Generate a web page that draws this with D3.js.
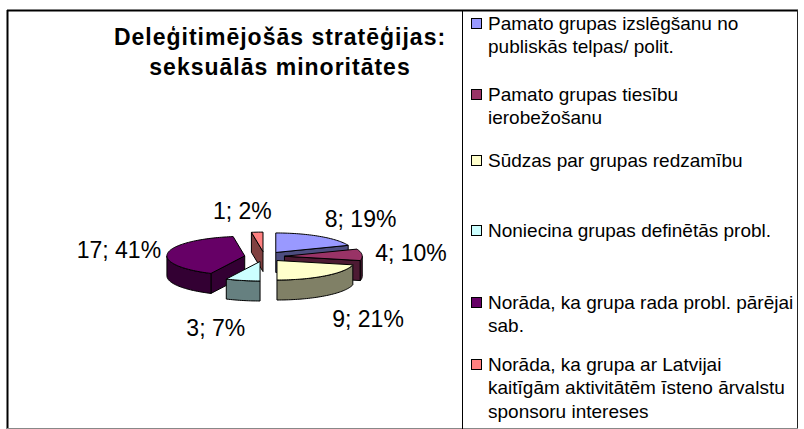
<!DOCTYPE html>
<html><head><meta charset="utf-8">
<script src="https://cdn.jsdelivr.net/npm/d3@7"></script>
<style>body{margin:0;background:#fff} svg{display:block}</style>
</head><body>
<svg id="c" width="804" height="429"></svg>
<script>
// ---- data ----
const categories = [
  ["Pamato grupas izslēgšanu no", "publiskās telpas/ polit."],
  ["Pamato grupas tiesību", "ierobežošanu"],
  ["Sūdzas par grupas redzamību"],
  ["Noniecina grupas definētās probl."],
  ["Norāda, ka grupa rada probl. pārējai", "sab."],
  ["Norāda, ka grupa ar Latvijai", "kaitīgām aktivitātēm īsteno ārvalstu", "sponsoru intereses"]
];
const values = [8, 4, 9, 3, 17, 1];
const percents = [19, 10, 21, 7, 41, 2];
const colors = ["#9999FF", "#993366", "#FFFFCC", "#CCFFFF", "#660066", "#FF8080"];
const titleLines = ["Deleģitimējošās stratēģijas:", "seksuālās minoritātes"];

// ---- layout ----
const W = 804, H = 429;
const FONT = "'Liberation Sans', Arial, Helvetica, sans-serif";
const svg = d3.select("#c");
const legendFirstBaseline = [30, 101, 167, 237, 309, 371];
const legendLineStep = 23.3;

// frame
svg.append("line").attr("x1",7.5).attr("y1",10).attr("x2",7.5).attr("y2",H).attr("stroke","#000").attr("stroke-width",2);
svg.append("line").attr("x1",7).attr("y1",10.5).attr("x2",798).attr("y2",10.5).attr("stroke","#000").attr("stroke-width",2);
svg.append("line").attr("x1",797.5).attr("y1",10).attr("x2",797.5).attr("y2",H).attr("stroke","#222").attr("stroke-width",1);
svg.append("line").attr("x1",7).attr("y1",428.5).attr("x2",798).attr("y2",428.5).attr("stroke","#888").attr("stroke-width",1);
// legend box
svg.append("line").attr("x1",462.5).attr("y1",10).attr("x2",462.5).attr("y2",H).attr("stroke","#000").attr("stroke-width",1);

// title
svg.append("g").selectAll("text").data(titleLines).join("text")
  .attr("x", 280).attr("y", (d,i)=>45 + i*30)
  .attr("text-anchor","middle")
  .attr("font-family", FONT).attr("font-weight","bold")
  .attr("font-size", 23).attr("letter-spacing", 1)
  .text(d=>d);

// ---- 3D pie ----
const cx = 264.5, cy = 256.6, rx = 77.8, ry = 19.5, depth = 20, explode = 20;
const k = ry / rx;
const arcs = d3.pie().sort(null).value(d=>d)(values);
arcs.forEach((a,i)=>{
  a.i = i;
  a.mid = (a.startAngle + a.endAngle)/2;
  a.ox = explode * Math.sin(a.mid);
  a.oy = -explode * Math.cos(a.mid) * k;
});
function pt(a, s, dz){ return [cx + s.ox + rx*Math.sin(a), cy + s.oy - ry*Math.cos(a) + (dz||0)]; }
function arcPts(a0, a1, s, dz){
  const n = Math.max(2, Math.ceil((a1-a0)/0.03));
  return d3.range(n+1).map(j => pt(a0 + (a1-a0)*j/n, s, dz));
}
const halfColor = c => { const r = d3.rgb(c); return d3.rgb(r.r/2, r.g/2, r.b/2).formatHex(); };
const line = d3.line();

const order = arcs.slice().sort((a,b)=>Math.cos(b.mid) - Math.cos(a.mid));
const pieG = svg.append("g").attr("stroke","#000").attr("stroke-width",1).attr("stroke-linejoin","round");
order.forEach(s=>{
  const g = pieG.append("g");
  const dark = halfColor(colors[s.i]);
  const c0 = [cx + s.ox, cy + s.oy];
  const c1 = [c0[0], c0[1] + depth];
  if (Math.sin(s.startAngle) < -1e-6) {
    const p = pt(s.startAngle, s), q = pt(s.startAngle, s, depth);
    g.append("path").attr("d", line([c0, p, q, c1]) + "Z").attr("fill", dark);
  }
  if (Math.sin(s.endAngle) > 1e-6) {
    const p = pt(s.endAngle, s), q = pt(s.endAngle, s, depth);
    g.append("path").attr("d", line([c0, p, q, c1]) + "Z").attr("fill", dark);
  }
  const v0 = Math.max(s.startAngle, Math.PI/2), v1 = Math.min(s.endAngle, 3*Math.PI/2);
  if (v1 > v0) {
    const top = arcPts(v0, v1, s, 0), bot = arcPts(v0, v1, s, depth).reverse();
    g.append("path").attr("d", line(top.concat(bot)) + "Z").attr("fill", dark);
  }
  g.append("path").attr("d", line([c0].concat(arcPts(s.startAngle, s.endAngle, s, 0))) + "Z")
    .attr("fill", colors[s.i]);
});

// labels
svg.append("g").selectAll("text").data(arcs).join("text")
  .attr("x", s => {
    const sn = Math.sin(s.mid);
    return cx + s.ox + Math.sign(sn) * (rx + 49) * Math.pow(Math.abs(sn), 0.7);
  })
  .attr("y", s => {
    const cs = Math.cos(s.mid);
    return cy + s.oy - (ry + 21) * cs + (cs < 0 ? depth + 7 : 0);
  })
  .attr("dy", "0.36em")
  .attr("text-anchor","middle")
  .attr("font-family", FONT).attr("font-size", 23)
  .text(s => `${values[s.i]}; ${percents[s.i]}%`);

// ---- legend ----
const lg = svg.append("g");
categories.forEach((lines, i)=>{
  const by = legendFirstBaseline[i];
  lg.append("rect").attr("x", 471.5).attr("y", by - 11.5).attr("width", 10).attr("height", 10)
    .attr("fill", colors[i]).attr("stroke","#000").attr("stroke-width",1);
  const t = lg.append("text").attr("font-family", FONT).attr("font-size", 19);
  lines.forEach((l, j)=>{
    t.append("tspan").attr("x", 488).attr("y", by + j*legendLineStep).text(l);
  });
});
</script>
</body></html>
